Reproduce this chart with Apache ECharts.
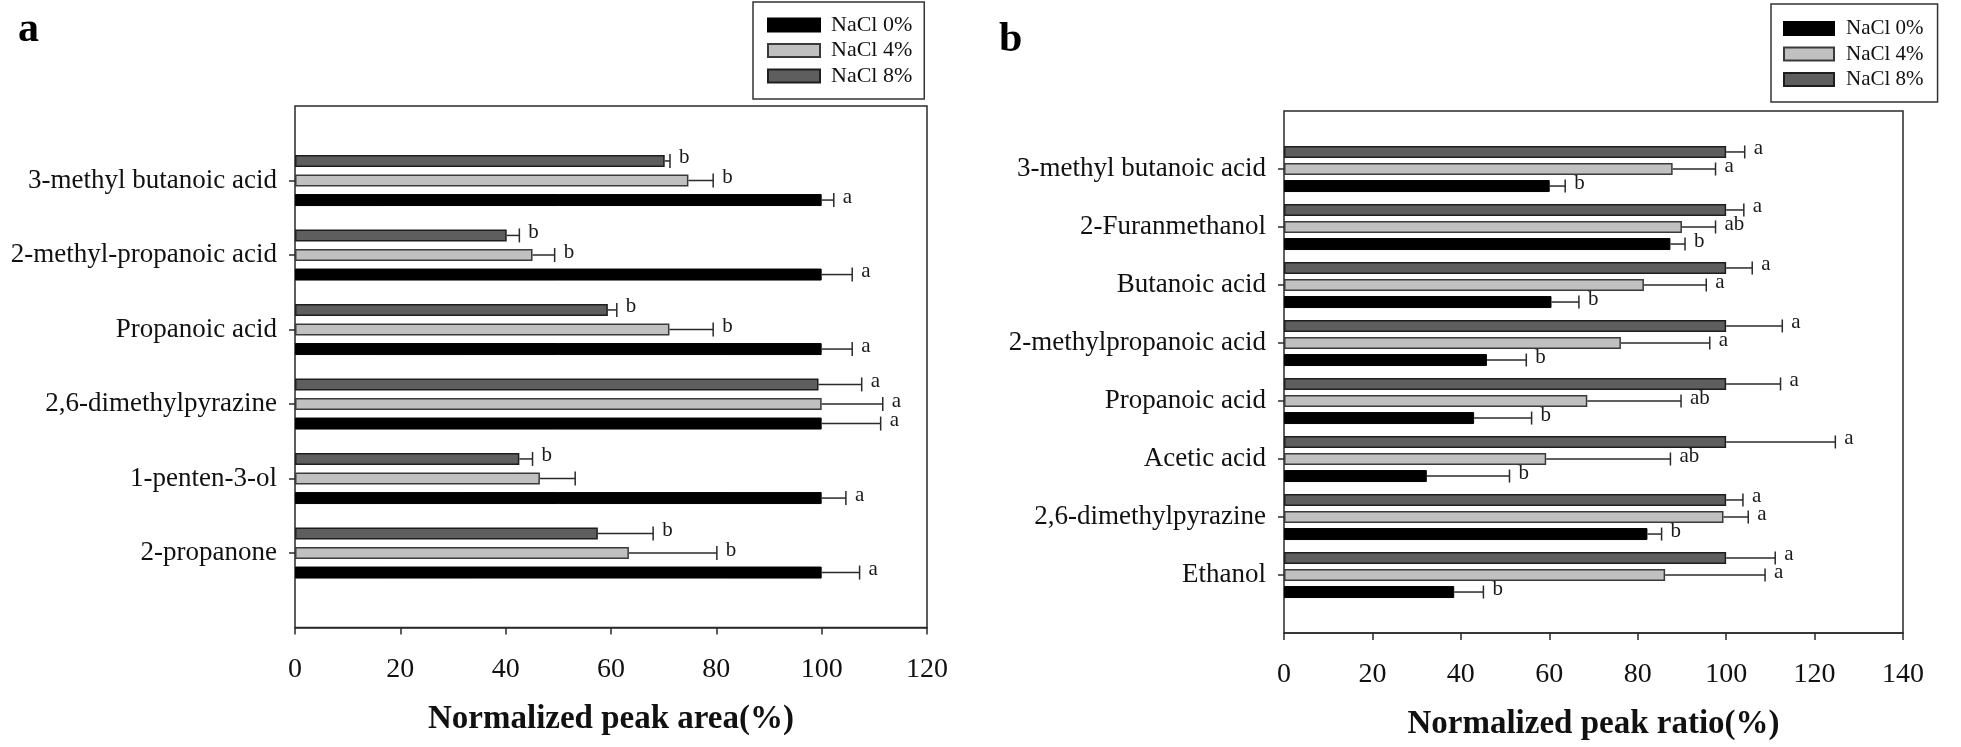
<!DOCTYPE html>
<html>
<head>
<meta charset="utf-8">
<script src="https://cdn.jsdelivr.net/npm/echarts@6/dist/echarts.min.js"></script>
<style>
html,body{margin:0;padding:0;background:#fff;}
#chart{width:1961px;height:747px;}
</style>
</head>
<body>
<div id="chart"></div>
<script>
// ---------- Panel a ----------
const catsA = ['3-methyl butanoic acid', '2-methyl-propanoic acid', 'Propanoic acid', '2,6-dimethylpyrazine', '1-penten-3-ol', '2-propanone'];
const a0 = [100, 100, 100, 100, 100, 100];
const a0err = [2.3, 5.8, 5.8, 11.2, 4.6, 7.2];
const a0sig = ['a', 'a', 'a', 'a', 'a', 'a'];
const a4 = [74.7, 45.1, 71.1, 100, 46.5, 63.4];
const a4err = [4.7, 4.2, 8.3, 11.6, 6.7, 16.7];
const a4sig = ['b', 'b', 'b', 'a', '', 'b'];
const a8 = [70.2, 40.2, 59.4, 99.4, 42.6, 57.5];
const a8err = [1.0, 2.4, 1.7, 8.2, 2.5, 10.5];
const a8sig = ['b', 'b', 'b', 'a', 'b', 'b'];
const ticksA = { min: 0, max: 120, interval: 20 };
const titleA = 'Normalized peak area(%)';

// ---------- Panel b ----------
const catsB = ['3-methyl butanoic acid', '2-Furanmethanol', 'Butanoic acid', '2-methylpropanoic acid', 'Propanoic acid', 'Acetic acid', '2,6-dimethylpyrazine', 'Ethanol'];
const b0 = [60.1, 87.4, 60.5, 45.9, 43.0, 32.3, 82.2, 38.5];
const b0err = [3.5, 3.3, 6.2, 8.9, 13.0, 18.7, 3.2, 6.6];
const b0sig = ['b', 'b', 'b', 'b', 'b', 'b', 'b', 'b'];
const b4 = [87.9, 90.0, 81.4, 76.2, 68.6, 59.3, 99.4, 86.2];
const b4err = [9.7, 7.6, 14.1, 20.1, 21.2, 28.1, 5.6, 22.6];
const b4sig = ['a', 'ab', 'a', 'a', 'ab', 'ab', 'a', 'a'];
const b8 = [100, 100, 100, 100, 100, 100, 100, 100];
const b8err = [4.2, 4.0, 5.9, 12.7, 12.3, 24.7, 3.8, 11.1];
const b8sig = ['a', 'a', 'a', 'a', 'a', 'a', 'a', 'a'];
const ticksB = { min: 0, max: 140, interval: 20 };
const titleB = 'Normalized peak ratio(%)';

const seriesNames = ['NaCl 0%', 'NaCl 4%', 'NaCl 8%'];
const panelLetters = ['a', 'b'];

// ---------- styles ----------
const SERIF = '"Liberation Serif", "Times New Roman", serif';
const styles = {
  'NaCl 0%': { color: '#000000', borderColor: '#000000', borderWidth: 1 },
  'NaCl 4%': { color: '#c0c0c0', borderColor: '#3a3a3a', borderWidth: 1.5 },
  'NaCl 8%': { color: '#5e5e5e', borderColor: '#1e1e1e', borderWidth: 1.5 }
};

const chart = echarts.init(document.getElementById('chart'), null, { renderer: 'canvas' });

function barSeries(name, vals, xi, yi, w, gap) {
  return {
    name: name, type: 'bar', xAxisIndex: xi, yAxisIndex: yi,
    data: vals, barWidth: w, barGap: (gap * 100) + '%',
    itemStyle: styles[name], silent: true, z: 3
  };
}

// error bars + significance letters drawn through axis coordinates
function errSeries(cats, vals, errs, sigs, xi, yi, idx, w, gap, capH) {
  return {
    type: 'custom', xAxisIndex: xi, yAxisIndex: yi, silent: true, z: 4, clip: false,
    data: vals.map((v, i) => [v, errs[i], cats[i]]),
    encode: { x: [0, 1], y: 2 },
    renderItem: function (params, api) {
      const v = api.value(0), e = api.value(1), c = api.value(2);
      const i = params.dataIndex;
      const p0 = api.coord([v, c]);
      const p1 = api.coord([v + e, c]);
      const total = 3 * w + 2 * gap * w;
      const y = p0[1] - total / 2 + idx * w * (1 + gap) + w / 2;
      const col = '#2a2a2a';
      const ch = [
        { type: 'line', shape: { x1: p0[0], y1: y, x2: p1[0], y2: y }, style: { stroke: col, lineWidth: 1.5 } },
        { type: 'line', shape: { x1: p1[0], y1: y - capH / 2, x2: p1[0], y2: y + capH / 2 }, style: { stroke: col, lineWidth: 1.5 } }
      ];
      if (sigs[i]) {
        ch.push({ type: 'text', style: { text: sigs[i], x: p1[0] + 9, y: y - 3, fill: '#1a1a1a', font: '21px ' + SERIF, align: 'left', verticalAlign: 'middle' } });
      }
      return { type: 'group', children: ch };
    }
  };
}

function frameX(gi, t, title, gapName) {
  return {
    gridIndex: gi, type: 'value', min: t.min, max: t.max, interval: t.interval,
    axisLine: { show: true, lineStyle: { color: '#2a2a2a', width: 1.5 } },
    axisTick: { show: true, inside: false, length: 7, lineStyle: { color: '#2a2a2a', width: 1.5 } },
    axisLabel: { show: true, margin: 28, color: '#111', fontFamily: SERIF, fontSize: 28 },
    splitLine: { show: false },
    name: title, nameLocation: 'middle', nameGap: gapName,
    nameTextStyle: { fontFamily: SERIF, fontWeight: 'bold', fontSize: 33, color: '#111' }
  };
}
function innerX(gi, t) {
  return { gridIndex: gi, type: 'value', min: t.min, max: t.max, interval: t.interval, show: false, splitLine: { show: false } };
}
function frameY(gi) {
  return { gridIndex: gi, type: 'value', min: 0, max: 1, show: false, splitLine: { show: false } };
}
function innerY(gi, cats) {
  return {
    gridIndex: gi, type: 'category', data: cats, inverse: true,
    axisLine: { show: false },
    axisTick: { show: true, alignWithLabel: true, length: 6, lineStyle: { color: '#2a2a2a', width: 1.5 } },
    axisLabel: { margin: 18, color: '#111', fontFamily: SERIF, fontSize: 27 },
    splitLine: { show: false }
  };
}

// layout (pixels)
const A = { left: 295, top: 106, width: 632, height: 521.5, n: catsA.length };
const B = { left: 1284, top: 111, width: 619, height: 522, n: catsB.length };
const bandA = A.height / (A.n + 1), bandB = B.height / (B.n + 1);
const wA = 12, gA = 0.63, wB = 12, gB = 0.42;

const legendCommon = {
  orient: 'vertical', icon: 'rect', selectedMode: false,
  borderColor: '#333', borderWidth: 1.5,
  textStyle: { fontFamily: SERIF, color: '#111' }
};

const gridCommon = { containLabel: false, outerBoundsMode: 'none' };

const option = {
  animation: false,
  backgroundColor: '#ffffff',
  title: [
    { text: panelLetters[0], left: 13, top: 4, textStyle: { fontFamily: SERIF, fontWeight: 'bold', fontSize: 42, color: '#000' } },
    { text: panelLetters[1], left: 994, top: 14, textStyle: { fontFamily: SERIF, fontWeight: 'bold', fontSize: 42, color: '#000' } }
  ],
  legend: [
    Object.assign({}, legendCommon, {
      data: seriesNames, left: 753, top: 2,
      itemWidth: 52, itemHeight: 13, itemGap: 3.5,
      padding: [12, 12, 12, 14],
      textStyle: { fontFamily: SERIF, color: '#111', fontSize: 22, lineHeight: 22, padding: [0, 0, 0, 6] }
    }),
    Object.assign({}, legendCommon, {
      data: seriesNames, left: 1771, top: 4,
      itemWidth: 50, itemHeight: 13, itemGap: 4.5,
      padding: [14, 14, 12, 12],
      textStyle: { fontFamily: SERIF, color: '#111', fontSize: 21, lineHeight: 21, padding: [0, 0, 0, 7] }
    })
  ],
  grid: [
    Object.assign({ left: A.left, top: A.top, width: A.width, height: A.height, show: true, borderColor: '#2a2a2a', borderWidth: 1.5, backgroundColor: 'transparent' }, gridCommon),
    Object.assign({ left: A.left, top: A.top + bandA / 2, width: A.width, height: bandA * A.n }, gridCommon),
    Object.assign({ left: B.left, top: B.top, width: B.width, height: B.height, show: true, borderColor: '#2a2a2a', borderWidth: 1.5, backgroundColor: 'transparent' }, gridCommon),
    Object.assign({ left: B.left, top: B.top + bandB / 2, width: B.width, height: bandB * B.n }, gridCommon)
  ],
  xAxis: [frameX(0, ticksA, titleA, 75), innerX(1, ticksA), frameX(2, ticksB, titleB, 75), innerX(3, ticksB)],
  yAxis: [frameY(0), innerY(1, catsA), frameY(2), innerY(3, catsB)],
  series: [
    barSeries('NaCl 8%', a8, 1, 1, wA, gA),
    barSeries('NaCl 4%', a4, 1, 1, wA, gA),
    barSeries('NaCl 0%', a0, 1, 1, wA, gA),
    errSeries(catsA, a8, a8err, a8sig, 1, 1, 0, wA, gA, 14),
    errSeries(catsA, a4, a4err, a4sig, 1, 1, 1, wA, gA, 14),
    errSeries(catsA, a0, a0err, a0sig, 1, 1, 2, wA, gA, 14),
    barSeries('NaCl 8%', b8, 3, 3, wB, gB),
    barSeries('NaCl 4%', b4, 3, 3, wB, gB),
    barSeries('NaCl 0%', b0, 3, 3, wB, gB),
    errSeries(catsB, b8, b8err, b8sig, 3, 3, 0, wB, gB, 13),
    errSeries(catsB, b4, b4err, b4sig, 3, 3, 1, wB, gB, 13),
    errSeries(catsB, b0, b0err, b0sig, 3, 3, 2, wB, gB, 13)
  ]
};
chart.setOption(option);
</script>
</body>
</html>
